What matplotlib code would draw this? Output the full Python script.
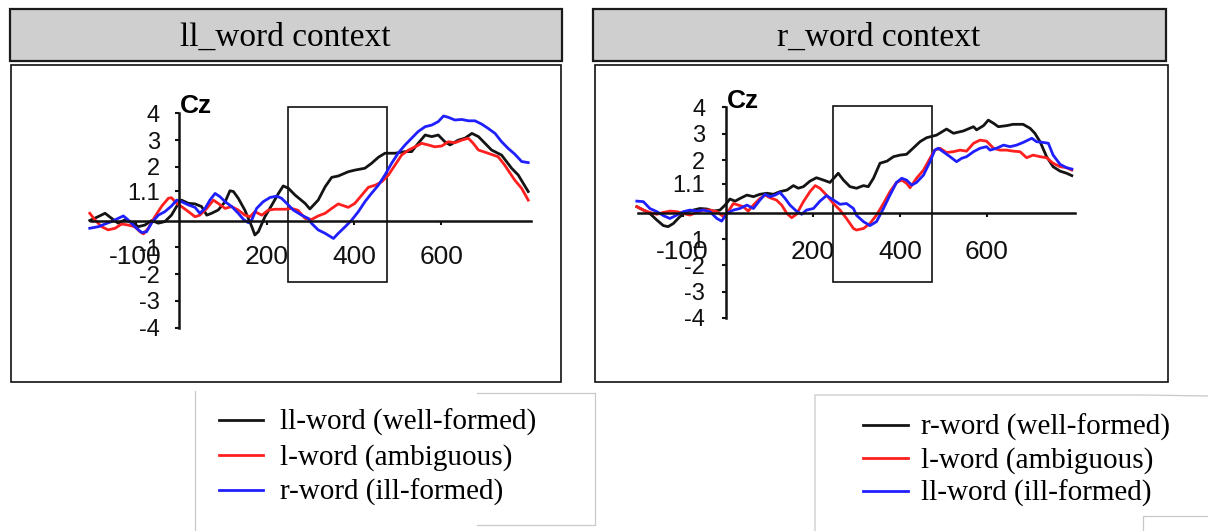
import matplotlib
matplotlib.use('Agg')
import matplotlib.pyplot as plt
from matplotlib.patches import Rectangle

plt.rcParams['axes.unicode_minus'] = False

W, H = 1208, 531

# ---------------- data (ms, microvolts) ----------------
panel_titles = ["ll_word context", "r_word context"]
channel = "Cz"
left_labels = ["ll-word (well-formed)", "l-word (ambiguous)", "r-word (ill-formed)"]
right_labels = ["r-word (well-formed)", "l-word (ambiguous)", "ll-word (ill-formed)"]

xticks = [-100, 200, 400, 600]
xticklabels = ["-100", "200", "400", "600"]
yticks = [-4, -3, -2, -1, 1.1, 2, 3, 4]
yticklabels = ["-4", "-3", "-2", "-1", "1.1", "2", "3", "4"]

# analysis window (ms, uV)
left_window = (250, 475, -2.3, 4.25)
right_window = (245, 473, -2.62, 4.07)

# left panel: ll_word context
L_black_t = [-205, -185, -170, -155, -140, -125, -108, -94, -79, -63, -48, -33, -18, -2, 5, 21, 36, 51, 63, 74,
             89, 105, 116, 124, 135, 150, 166, 173, 181, 196, 212, 227, 238, 250, 265, 288, 299, 318, 334, 349,
             364, 387, 402, 425, 440, 456, 471, 494, 517, 532, 547, 563, 578, 593, 608, 620, 639, 654, 670, 685,
             700, 715, 738, 761, 776, 799]
L_black_v = [0.0, 0.15, 0.27, 0.08, -0.1, 0.02, -0.08, -0.23, -0.17, 0.0, -0.1, -0.04, 0.2, 0.64, 0.76, 0.64, 0.62, 0.52, 0.2, 0.27,
             0.39, 0.7, 1.11, 1.08, 0.83, 0.39, -0.23, -0.54, -0.42, 0.14, 0.58, 1.01, 1.29, 1.2, 0.95, 0.64, 0.43, 0.76, 1.26, 1.61,
             1.66, 1.82, 1.88, 1.95, 2.13, 2.36, 2.51, 2.51, 2.57, 2.57, 2.88, 3.19, 3.13, 3.19, 2.94, 2.82, 3.0, 3.07, 3.25, 3.13,
             2.88, 2.63, 2.44, 1.95, 1.7, 1.08]

L_red_t = [-205, -193, -178, -163, -147, -132, -117, -102, -90, -82, -71, -56, -40, -25, -18, -6, 5, 21, 36, 47,
           63, 78, 89, 105, 120, 135, 150, 162, 173, 189, 204, 219, 242, 257, 272, 288, 303, 318, 334, 349,
           364, 387, 402, 418, 433, 449, 464, 479, 494, 509, 525, 540, 555, 570, 585, 601, 616, 631, 647, 662,
           673, 685, 707, 730, 745, 768, 784, 799]
L_red_v = [0.27, 0.02, -0.23, -0.35, -0.29, -0.13, -0.17, -0.23, -0.42, -0.5, -0.29, 0.14, 0.54, 0.83, 0.85, 0.64, 0.52, 0.33, 0.14, 0.2,
           0.45, 0.76, 0.64, 0.45, 0.52, 0.39, 0.2, 0.14, 0.33, 0.2, 0.39, 0.42, 0.42, 0.45, 0.38, 0.08, 0.04, 0.17, 0.27, 0.45,
           0.62, 0.49, 0.64, 0.95, 1.24, 1.32, 1.45, 1.7, 2.07, 2.44, 2.63, 2.75, 2.88, 2.82, 2.75, 2.78, 2.94, 2.9, 3.0, 3.07,
           2.88, 2.63, 2.51, 2.38, 2.07, 1.51, 1.2, 0.76]

L_blue_t = [-205, -185, -170, -155, -140, -128, -117, -102, -86, -75, -63, -48, -33, -18, -6, 5, 21, 36, 47, 59,
            70, 82, 93, 105, 120, 135, 147, 158, 166, 177, 192, 208, 223, 234, 246, 261, 280, 295, 303, 318,
            334, 353, 364, 380, 395, 410, 425, 440, 456, 471, 486, 501, 517, 532, 547, 563, 578, 593, 605, 616,
            631, 647, 662, 677, 692, 707, 723, 738, 753, 768, 784, 799]
L_blue_v = [-0.29, -0.23, -0.13, -0.04, 0.08, 0.17, 0.02, -0.23, -0.45, -0.42, -0.08, 0.2, 0.33, 0.54, 0.76, 0.7, 0.58, 0.49, 0.27, 0.45,
            0.76, 1.01, 0.89, 0.7, 0.52, 0.27, 0.04, -0.08, 0.02, 0.45, 0.7, 0.86, 0.91, 0.83, 0.64, 0.39, 0.2, 0.08, -0.11, -0.35,
            -0.48, -0.67, -0.48, -0.23, 0.02, 0.33, 0.7, 1.01, 1.32, 1.7, 2.13, 2.51, 2.82, 3.07, 3.32, 3.5, 3.56, 3.69, 3.9, 3.85,
            3.75, 3.77, 3.72, 3.72, 3.6, 3.44, 3.25, 2.94, 2.69, 2.48, 2.2, 2.16]

# right panel: r_word context
R_black_t = [-205, -190, -175, -159, -144, -133, -121, -106, -90, -75, -60, -44, -29, -14, -2, 9, 21, 32, 48, 63,
             78, 94, 109, 124, 140, 155, 166, 178, 193, 208, 224, 239, 251, 258, 270, 285, 300, 316, 327, 339,
             354, 370, 385, 400, 415, 430, 446, 461, 484, 507, 523, 546, 569, 576, 592, 603, 615, 626, 645, 660,
             683, 699, 710, 722, 737, 752, 768, 783, 795]
R_black_v = [0.23, 0.1, -0.03, -0.28, -0.49, -0.53, -0.41, -0.15, 0.04, 0.1, 0.16, 0.14, 0.06, 0.1, 0.29, 0.52, 0.44, 0.54, 0.67, 0.61,
             0.7, 0.74, 0.7, 0.8, 0.86, 1.03, 0.93, 0.99, 1.2, 1.33, 1.24, 1.15, 1.37, 1.5, 1.24, 0.99, 0.93, 1.03, 0.99, 1.31,
             1.88, 1.96, 2.13, 2.19, 2.22, 2.45, 2.7, 2.85, 2.95, 3.18, 3.02, 3.11, 3.27, 3.15, 3.31, 3.52, 3.4, 3.27, 3.31, 3.36,
             3.36, 3.21, 3.02, 2.7, 2.13, 1.75, 1.58, 1.5, 1.41]

R_red_t = [-205, -190, -175, -159, -144, -129, -113, -98, -83, -67, -52, -37, -21, -6, 5, 17, 28, 40, 51, 63,
           78, 90, 101, 116, 128, 140, 151, 162, 178, 193, 205, 216, 231, 247, 262, 277, 293, 300, 316, 331,
           346, 362, 377, 392, 404, 415, 423, 438, 454, 469, 480, 492, 507, 523, 538, 553, 569, 584, 599, 615,
           630, 645, 660, 676, 691, 706, 722, 737, 752, 768, 783, 795]
R_red_v = [0.23, 0.1, 0.01, -0.06, 0.01, 0.06, 0.04, -0.03, -0.09, 0.01, 0.1, 0.1, 0.04, -0.15, 0.04, 0.35, 0.29, 0.23, 0.06, 0.29,
           0.54, 0.67, 0.57, 0.48, 0.29, -0.03, -0.19, -0.06, 0.42, 0.8, 1.03, 0.93, 0.67, 0.35, 0.1, -0.22, -0.6, -0.66, -0.6, -0.41,
           -0.09, 0.35, 0.8, 1.15, 1.24, 1.12, 0.95, 1.31, 1.62, 2.07, 2.38, 2.45, 2.29, 2.32, 2.38, 2.34, 2.64, 2.76, 2.72, 2.45,
           2.38, 2.38, 2.34, 2.32, 2.09, 2.19, 2.13, 2.09, 1.88, 1.75, 1.71, 1.62]

R_blue_t = [-205, -190, -175, -159, -144, -129, -113, -98, -83, -67, -52, -37, -21, -10, 2, 17, 32, 48, 63, 78,
            90, 101, 113, 124, 136, 147, 162, 174, 185, 201, 216, 231, 247, 262, 277, 293, 300, 316, 331, 346,
            362, 377, 392, 404, 415, 427, 438, 454, 469, 480, 488, 499, 515, 530, 542, 553, 569, 584, 599, 607,
            622, 638, 653, 668, 683, 703, 714, 730, 741, 752, 768, 783, 795]
R_blue_v = [0.44, 0.42, 0.16, 0.04, -0.11, -0.22, -0.09, 0.04, 0.1, 0.06, 0.1, 0.04, -0.22, -0.32, -0.03, 0.1, 0.16, 0.29, 0.16, 0.48,
            0.7, 0.61, 0.67, 0.77, 0.54, 0.29, 0.06, -0.06, 0.1, 0.16, 0.44, 0.65, 0.48, 0.32, 0.35, 0.16, -0.1, -0.34, -0.49, -0.34,
            0.16, 0.67, 1.15, 1.31, 1.24, 1.05, 1.15, 1.43, 1.94, 2.38, 2.45, 2.32, 2.13, 1.94, 2.07, 2.13, 2.32, 2.45, 2.51, 2.38,
            2.45, 2.57, 2.51, 2.57, 2.67, 2.83, 2.7, 2.67, 2.64, 2.19, 1.84, 1.71, 1.66]

# ---------------- styles ----------------
C_BLACK, C_RED, C_BLUE = '#141414', '#ff1f1f', '#1f1fff'
SANS = 'Liberation Sans'
SERIF = 'Liberation Serif'
LW = 2.0

fig = plt.figure(figsize=(W / 100, H / 100), dpi=100)
bg = fig.add_axes([0, 0, 1, 1])
bg.set_xlim(0, W)
bg.set_ylim(H, 0)
bg.axis('off')


def box(x0, y0, x1, y1, fc, ec, lw):
    bg.add_patch(Rectangle((x0, y0), x1 - x0, y1 - y0, facecolor=fc, edgecolor=ec, linewidth=lw))


def gline(xs, ys):
    bg.plot(xs, ys, color='#c9c9c9', lw=0.9)


# panel frames
box(9.5, 8.5, 562, 61, '#d0cfd0', '#1a1a1a', 1.6)
box(10.5, 65, 561, 382, 'white', '#111111', 1.2)
box(593, 8.5, 1165.5, 61, '#d0cfd0', '#1a1a1a', 1.6)
box(595, 65, 1167.5, 382, 'white', '#111111', 1.2)
bg.text(285.5, 38, panel_titles[0], ha='center', va='center', family=SERIF, fontsize=24)
bg.text(879, 38, panel_titles[1], ha='center', va='center', family=SERIF, fontsize=24)

# legend box remnants
gline([195, 195], [391, 531])
gline([477, 595, 595, 477], [393, 393, 525, 525])
gline([815, 815, 1143, 1208], [531, 395, 395, 396])
gline([1143, 1143, 1208], [531, 516, 516])


def erp_axes(x0px, y0px, kx, ky, xlim=(-215, 815), ylim=(-4.5, 4.5)):
    left = x0px + kx * xlim[0]
    right = x0px + kx * xlim[1]
    top = y0px - ky * ylim[1]
    bottom = y0px - ky * ylim[0]
    ax = fig.add_axes([left / W, 1 - bottom / H, (right - left) / W, (bottom - top) / H])
    ax.set_xlim(xlim)
    ax.set_ylim(ylim)
    ax.patch.set_alpha(0)
    return ax


def style(ax, xpad, ypad, xend):
    for s in ('top', 'right'):
        ax.spines[s].set_visible(False)
    ax.spines['left'].set_position(('data', 0))
    ax.spines['bottom'].set_position(('data', 0))
    ax.spines['left'].set_bounds(-4, 4)
    ax.spines['bottom'].set_bounds(-203, xend)
    for s in ('left', 'bottom'):
        ax.spines[s].set_linewidth(1.8)
        ax.spines[s].set_color('#111111')
    ax.set_xticks(xticks)
    ax.set_xticklabels(xticklabels, family=SANS, fontsize=19)
    ax.set_yticks(yticks)
    ax.set_yticklabels(yticklabels, family=SANS, fontsize=17)
    ax.tick_params(axis='x', direction='out', length=3, width=1.5, pad=xpad, colors='#111111')
    ax.tick_params(axis='y', direction='out', length=3, width=1.5, pad=ypad, colors='#111111')
    ax.text(2, 4.0, channel, family=SANS, fontsize=19, fontweight='bold', va='baseline', ha='left')


axL = erp_axes(179.3, 220.5, 0.4367, 26.8)
style(axL, 14.5, 11, 805)
w = left_window
axL.add_patch(Rectangle((w[0], w[2]), w[1] - w[0], w[3] - w[2], fill=False, ec='#111111', lw=1.2))
lb, = axL.plot(L_black_t, L_black_v, color=C_BLACK, lw=LW, label=left_labels[0])
lr, = axL.plot(L_red_t, L_red_v, color=C_RED, lw=LW, label=left_labels[1])
lbl, = axL.plot(L_blue_t, L_blue_v, color=C_BLUE, lw=LW, label=left_labels[2])

axR = erp_axes(726, 212.7, 0.435, 26.3)
style(axR, 16.5, 12, 803)
w = right_window
axR.add_patch(Rectangle((w[0], w[2]), w[1] - w[0], w[3] - w[2], fill=False, ec='#111111', lw=1.2))
rb, = axR.plot(R_black_t, R_black_v, color=C_BLACK, lw=LW, label=right_labels[0])
rr, = axR.plot(R_red_t, R_red_v, color=C_RED, lw=LW, label=right_labels[1])
rbl, = axR.plot(R_blue_t, R_blue_v, color=C_BLUE, lw=LW, label=right_labels[2])

legprops = dict(family=SERIF, size=21)
fig.legend(handles=[lb, lr, lbl], labels=left_labels, loc='upper left',
           bbox_to_anchor=(219 / W, 1 - 409 / H), bbox_transform=fig.transFigure,
           frameon=False, prop=legprops, borderpad=0, borderaxespad=0,
           handlelength=1.5, handletextpad=0.58, labelspacing=0.27)
fig.legend(handles=[rb, rr, rbl], labels=right_labels, loc='upper left',
           bbox_to_anchor=(863 / W, 1 - 414 / H), bbox_transform=fig.transFigure,
           frameon=False, prop=legprops, borderpad=0, borderaxespad=0,
           handlelength=1.55, handletextpad=0.45, labelspacing=0.2)

fig.savefig('out.png', dpi=100)
